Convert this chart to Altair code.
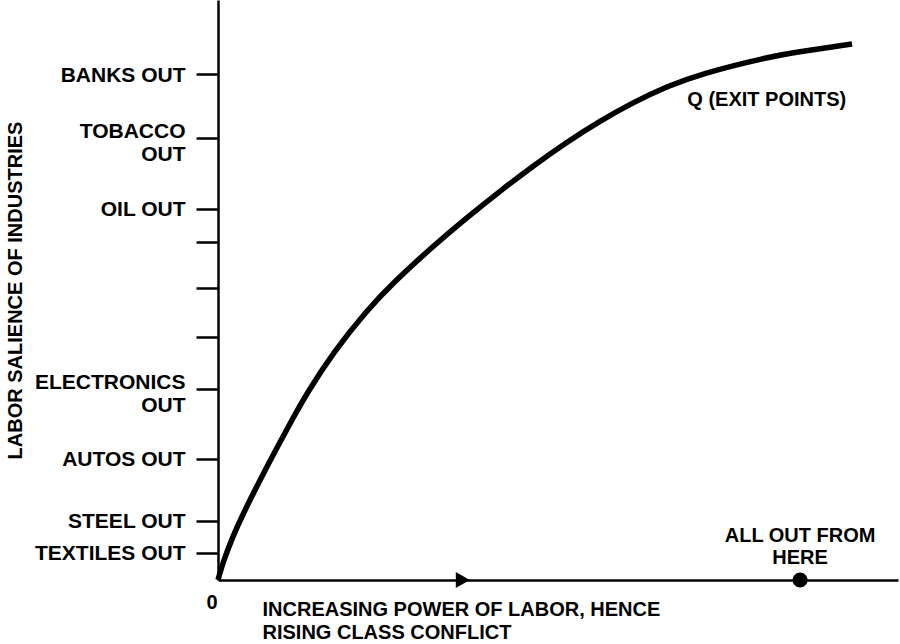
import altair as alt
import pandas as pd

# Curve Q (exit points): increasing power of labor vs labor salience
power = [0, 0.74, 2.21, 3.68, 6.18, 8.68, 11.03, 13.09, 16.91, 21.91, 25.74, 31.62,
         36.62, 41.47, 46.32, 51.32, 56.18, 61.03, 66.03, 70.88, 80.74, 85.59, 93.24]
salience = [0, 3.10, 7.59, 11.38, 17.24, 22.84, 27.93, 32.24, 39.19, 46.52, 51.22, 57.57,
            62.50, 67.05, 71.38, 75.52, 79.14, 82.33, 85.09, 87.24, 90.14, 91.10, 92.40]

# Y axis ticks (industries' exit points)
tick_values = [87.2, 76.2, 64.0, 58.3, 50.3, 41.9, 32.9, 20.9, 10.2, 4.7]
tick_labels = ["BANKS OUT", "TOBACCO|OUT", "OIL OUT", "", "", "",
               "ELECTRONICS|OUT", "AUTOS OUT", "STEEL OUT", "TEXTILES OUT"]

# Markers on the x axis
marker_x = [36.0, 85.6]
marker_y = [0, 0]
marker_shape = ["triangle-right", "circle"]
marker_size = [260, 230]

# Annotations
note_text = ["Q (EXIT POINTS)", "ALL OUT FROM\nHERE"]
note_x = [80.7, 85.6]
note_y = [82.8, 7.67]

FONT = "Liberation Sans"

label_expr = " : ".join(
    f"datum.value == {v} ? split('{l}', '|')" for v, l in zip(tick_values, tick_labels)
) + " : ''"
two_line_test = " || ".join(
    f"datum.value == {v}" for v, l in zip(tick_values, tick_labels) if "|" in l
)

curve_df = pd.DataFrame({"power": power, "salience": salience})
marker_df = pd.DataFrame({"power": marker_x, "salience": marker_y,
                          "shape": marker_shape, "size": marker_size})
note_df = pd.DataFrame({"power": note_x, "salience": note_y, "text": note_text})

xscale = alt.Scale(domain=[0, 100], nice=False, zero=True)
yscale = alt.Scale(domain=[0, 100], nice=False, zero=True)

x_axis = alt.Axis(
    title=["INCREASING POWER OF LABOR, HENCE", "RISING CLASS CONFLICT"],
    titleFont=FONT, titleFontSize=20, titleFontWeight="bold", titleColor="black",
    titleAlign="left", titleAnchor="start", titleBaseline="top",
    titleX=44, titleY=19, titleLineHeight=23,
    values=[0], labelExpr="'0'", labelFont=FONT, labelFontSize=20,
    labelFontWeight="bold", labelColor="black", labelAlign="right",
    labelBaseline="middle", labelPadding=22, labelOffset=-1,
    ticks=False, grid=False, domainColor="black", domainWidth=2.5,
)

y_axis = alt.Axis(
    title="LABOR SALIENCE OF INDUSTRIES",
    titleFont=FONT, titleFontSize=20, titleFontWeight="bold", titleColor="black",
    titleAngle=270, titleBaseline="middle", titleAlign="center",
    titleX=-203, titleY=290,
    values=tick_values, labelExpr=label_expr,
    labelFont=FONT, labelFontSize=21, labelFontWeight="bold", labelColor="black",
    labelLineHeight=23, labelPadding=11, labelBaseline="middle",
    labelOffset={"condition": {"test": two_line_test, "value": -7}, "value": 1},
    tickSize=22, tickWidth=2.5, tickColor="black",
    grid=False, domainColor="black", domainWidth=2.5,
)

curve = alt.Chart(curve_df).mark_line(
    color="black", strokeWidth=5.5, interpolate="basis", strokeCap="butt"
).encode(
    x=alt.X("power:Q", scale=xscale, axis=x_axis),
    y=alt.Y("salience:Q", scale=yscale, axis=y_axis),
    order="power:Q",
)

markers = alt.Chart(marker_df).mark_point(
    filled=True, color="black", opacity=1
).encode(
    x=alt.X("power:Q", scale=xscale),
    y=alt.Y("salience:Q", scale=yscale),
    shape=alt.Shape("shape:N", scale=None, legend=None),
    size=alt.Size("size:Q", scale=None, legend=None),
)

notes = alt.Chart(note_df).mark_text(
    font=FONT, fontSize=20, fontWeight="bold", color="black",
    lineBreak="\n", lineHeight=22, align="center", baseline="middle"
).encode(
    x=alt.X("power:Q", scale=xscale),
    y=alt.Y("salience:Q", scale=yscale),
    text="text:N",
)

chart = alt.layer(curve, markers, notes).properties(
    width=680, height=580,
    autosize="none",
    padding={"left": 218, "top": 0, "right": 2, "bottom": 64},
    background="white",
).configure_view(stroke=None)

chart.save("out.html", embed_options={"renderer": "svg", "actions": False})
